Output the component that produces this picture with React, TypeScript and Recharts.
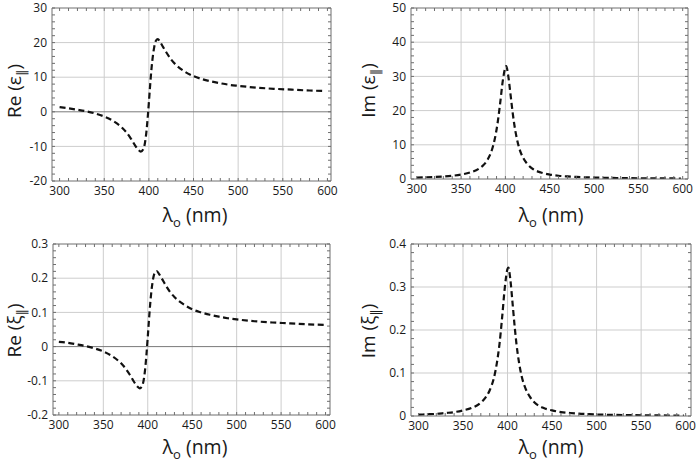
import React from "react";
import { Line, LineChart, ReferenceLine, XAxis, YAxis } from "recharts";

// wavelength samples (nm) shared by the four curves
const wavelength = [
  300, 310, 320, 330, 340, 350, 360, 370, 375, 380, 385, 388, 391, 394, 397, 400, 401, 403,
  406, 408, 410, 413, 416, 420, 425, 430, 440, 450, 460, 470, 480, 490, 500, 520, 540, 560,
  580, 598,
];
const reEps = [
  1.33, 1.0, 0.6, 0.15, -0.5, -1.36, -2.65, -4.6, -6.0, -7.8, -9.9, -10.9, -11.5, -10.7, -6.35,
  2.65, 6.2, 12.6, 18.7, 20.6, 21.0, 20.0, 18.7, 17.0, 15.1, 13.65, 11.65, 10.3, 9.4, 8.75,
  8.25, 7.8, 7.5, 7.0, 6.65, 6.4, 6.15, 6.0,
];
const imEps = [
  0.4, 0.5, 0.6, 0.75, 0.95, 1.3, 1.9, 3.0, 4.0, 5.7, 8.7, 11.7, 16.0, 22.0, 28.6, 32.6, 33.0,
  30.5, 24.2, 19.8, 16.0, 11.7, 8.7, 6.2, 4.3, 3.1, 1.9, 1.3, 0.95, 0.75, 0.6, 0.5, 0.42, 0.32,
  0.25, 0.2, 0.17, 0.15,
];
const reXi = [
  0.014, 0.011, 0.0065, 0.0015, -0.005, -0.014, -0.028, -0.049, -0.064, -0.083, -0.105, -0.116,
  -0.122, -0.113, -0.067, 0.028, 0.065, 0.133, 0.198, 0.217, 0.221, 0.211, 0.198, 0.18, 0.16,
  0.145, 0.124, 0.109, 0.1, 0.093, 0.0875, 0.083, 0.0795, 0.0742, 0.0705, 0.068, 0.0652, 0.0636,
];
const imXi = [
  0.003, 0.004, 0.005, 0.007, 0.009, 0.013, 0.019, 0.031, 0.042, 0.06, 0.091, 0.123, 0.168,
  0.231, 0.3, 0.342, 0.345, 0.32, 0.254, 0.208, 0.168, 0.123, 0.091, 0.065, 0.045, 0.032, 0.019,
  0.013, 0.009, 0.007, 0.0055, 0.0045, 0.0035, 0.0025, 0.002, 0.0015, 0.0012, 0.001,
];

const xTicks = [300, 350, 400, 450, 500, 550, 600];
const xGrid = [350, 400, 450, 500, 550];
const epsReTicks = [-20, -10, 0, 10, 20, 30];
const epsImTicks = [0, 10, 20, 30, 40, 50];
const xiReTicks = [-0.2, -0.1, 0, 0.1, 0.2, 0.3];
const xiImTicks = [0, 0.1, 0.2, 0.3, 0.4];

const data = wavelength.map((wl, i) => ({
  wl,
  reEps: reEps[i],
  imEps: imEps[i],
  reXi: reXi[i],
  imXi: imXi[i],
}));

function steps(from: number, to: number, n: number): number[] {
  const out: number[] = [];
  for (let i = 0; i <= n; i++) out.push(+(from + ((to - from) * i) / n).toFixed(6));
  return out;
}

const W = 348;
const H = 232;
const FONT = "'Open Sans', 'DejaVu Sans', sans-serif";
const FRAME = "#6e6e6e";
const GRID = "#cdcdcd";

type PanelProps = {
  left: number;
  top: number;
  plot: { l: number; r: number; t: number; b: number };
  xDomain: [number, number];
  yDomain: [number, number];
  yTicks: number[];
  dataKey: string;
  yMain: string;
  ySymbol: string;
  yLabelX: number;
  yLabelCy: number;
  xLabelCx: number;
  zeroLine?: boolean;
};

const Panel: React.FC<PanelProps> = ({
  left,
  top,
  plot,
  xDomain,
  yDomain,
  yTicks,
  dataKey,
  yMain,
  ySymbol,
  yLabelX,
  yLabelCy,
  xLabelCx,
  zeroLine,
}) => {
  const minorX = steps(300, 600, 30);
  const minorY = steps(yDomain[0], yDomain[1], (yTicks.length - 1) * 5);
  const cy = yLabelCy;
  const noTick = () => <g />;

  const yLabel = () => (
    <text
      x={yLabelX}
      y={cy}
      transform={`rotate(-90 ${yLabelX} ${cy})`}
      textAnchor="middle"
      fontFamily={FONT}
      fontSize={19}
      fill="#1a1a1a"
    >
      <tspan>
        {yMain} ({ySymbol}
      </tspan>
      <tspan dy={5} fontSize={13}>
        ‖
      </tspan>
      <tspan dy={-5}>)</tspan>
    </text>
  );
  const xLabel = () => (
    <text
      x={xLabelCx}
      y={H - 10}
      textAnchor="middle"
      fontFamily={FONT}
      fontSize={19.5}
      fill="#1a1a1a"
    >
      <tspan>λ</tspan>
      <tspan dy={5} fontSize={13}>
        o
      </tspan>
      <tspan dy={-5}> (nm)</tspan>
    </text>
  );

  const tickStyle = { fontFamily: FONT, fontSize: 12, fill: "#1a1a1a" };
  const innerY = yTicks.filter((t) => t > yDomain[0] && t < yDomain[1] && !(zeroLine && t === 0));

  return (
    <div style={{ position: "absolute", left, top, width: W, height: H }}>
      <LineChart
        width={W}
        height={H}
        data={data}
        margin={{ top: plot.t, right: W - plot.r, left: 0, bottom: 0 }}
      >
        <XAxis
          dataKey="wl"
          type="number"
          domain={xDomain}
          allowDataOverflow
          ticks={xTicks}
          interval={0}
          height={H - plot.b}
          tickLine={false}
          axisLine={false}
          tickSize={0}
          tickMargin={5}
          tick={tickStyle}
          label={xLabel}
        />
        <YAxis
          type="number"
          domain={yDomain}
          allowDataOverflow
          ticks={yTicks}
          interval={0}
          width={plot.l}
          tickLine={false}
          axisLine={false}
          tickSize={0}
          tickMargin={5}
          tick={tickStyle}
          label={yLabel}
        />
        {/* frame with inward minor ticks on all four sides */}
        {(["bottom", "top"] as const).map((o) => (
          <XAxis
            key={o}
            xAxisId={o}
            orientation={o}
            mirror
            type="number"
            dataKey="wl"
            domain={xDomain}
            allowDataOverflow
            ticks={minorX}
            interval={0}
            tick={noTick}
            tickSize={3}
            stroke={FRAME}
          />
        ))}
        {(["left", "right"] as const).map((o) => (
          <YAxis
            key={o}
            yAxisId={o}
            orientation={o}
            mirror
            type="number"
            domain={yDomain}
            allowDataOverflow
            ticks={minorY}
            interval={0}
            tick={noTick}
            tickSize={3}
            stroke={FRAME}
          />
        ))}
        {xGrid.map((x) => (
          <ReferenceLine key={`gx${x}`} x={x} stroke={GRID} strokeWidth={1} />
        ))}
        {innerY.map((y) => (
          <ReferenceLine key={`gy${y}`} y={y} stroke={GRID} strokeWidth={1} />
        ))}
        {zeroLine && <ReferenceLine y={0} stroke="#7a7a7a" strokeWidth={1} />}
        <Line
          dataKey={dataKey}
          type="monotone"
          stroke="#111"
          strokeWidth={2.2}
          strokeDasharray="6 3.5"
          dot={false}
          activeDot={false}
          isAnimationActive={false}
        />
      </LineChart>
    </div>
  );
};

export default function App() {
  return (
    <div
      style={{
        position: "absolute",
        left: 0,
        top: 0,
        width: 696,
        height: 464,
        background: "#fff",
        overflow: "hidden",
      }}
    >
      <Panel
        left={0}
        top={0}
        plot={{ l: 52, r: 331, t: 8, b: 181 }}
        xDomain={[291.5, 604]}
        yDomain={[-20, 30]}
        yTicks={epsReTicks}
        dataKey="reEps"
        yMain="Re"
        ySymbol="ε"
        yLabelX={20.5}
        yLabelCy={91}
        xLabelCx={195}
        zeroLine
      />
      <Panel
        left={348}
        top={0}
        plot={{ l: 63, r: 340, t: 8, b: 179 }}
        xDomain={[293.5, 606]}
        yDomain={[0, 50]}
        yTicks={epsImTicks}
        dataKey="imEps"
        yMain="Im"
        ySymbol="ε"
        yLabelX={27}
        yLabelCy={90.5}
        xLabelCx={203}
      />
      <Panel
        left={0}
        top={232}
        plot={{ l: 53, r: 330, t: 12, b: 183 }}
        xDomain={[293.4, 605]}
        yDomain={[-0.2, 0.3]}
        yTicks={xiReTicks}
        dataKey="reXi"
        yMain="Re"
        ySymbol="ξ"
        yLabelX={20.5}
        yLabelCy={98.5}
        xLabelCx={195}
        zeroLine
      />
      <Panel
        left={348}
        top={232}
        plot={{ l: 63, r: 343, t: 12, b: 184 }}
        xDomain={[291.6, 606]}
        yDomain={[0, 0.4]}
        yTicks={xiImTicks}
        dataKey="imXi"
        yMain="Im"
        ySymbol="ξ"
        yLabelX={27}
        yLabelCy={99}
        xLabelCx={203}
      />
    </div>
  );
}
